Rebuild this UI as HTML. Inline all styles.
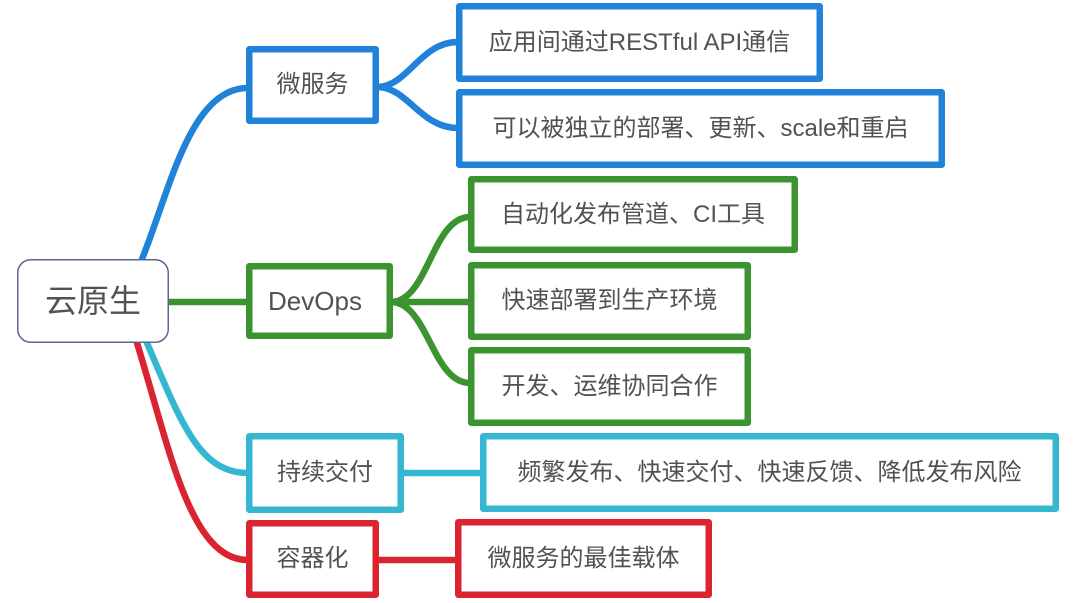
<!DOCTYPE html>
<html>
<head>
<meta charset="utf-8">
<style>
  html, body { margin:0; padding:0; background:#fff; }
  body { width:1080px; height:603px; position:relative; overflow:hidden; }
  svg { position:absolute; left:0; top:0; }
  .t { position:absolute; display:flex; align-items:center; justify-content:center;
       font-family:"Liberation Sans","Noto Sans CJK SC",sans-serif; font-size:24px;
       color:#525252; line-height:1; white-space:nowrap; }
</style>
</head>
<body>
<svg width="1080" height="603" viewBox="0 0 1080 603">
  <g fill="none" stroke-width="6.5" stroke-linecap="round">
    <!-- root connectors -->
    <path d="M142,259 C170,190 190,88 248,88" stroke="#2182da"/>
    <path d="M169,302 L248,302" stroke="#3b942f" stroke-linecap="butt"/>
    <path d="M147,343 C182,425 200,473 248,473" stroke="#35b7d1"/>
    <path d="M137,343 C170,450 190,560 248,560" stroke="#da2530"/>
    <!-- microservice fork -->
    <path d="M377,87 C408,87 420,42 458,42" stroke="#2182da"/>
    <path d="M377,87 C408,87 420,128 458,128" stroke="#2182da"/>
    <!-- devops fork -->
    <path d="M391,302 C428,302 432,217 470,217" stroke="#3b942f"/>
    <path d="M391,302 L470,302" stroke="#3b942f"/>
    <path d="M391,302 C428,302 432,383 470,383" stroke="#3b942f"/>
    <!-- cd / container -->
    <path d="M402,473 L482,473" stroke="#35b7d1"/>
    <path d="M377,560 L457,560" stroke="#da2530"/>
  </g>
  <g fill="#fff" stroke-width="6.5" stroke-linejoin="round">
    <rect x="249.25" y="49.25" width="126.5" height="71.5" stroke="#2182da"/>
    <rect x="459.25" y="6.25" width="360.5" height="72.5" stroke="#2182da"/>
    <rect x="459.25" y="92.25" width="482.5" height="72.5" stroke="#2182da"/>
    <rect x="249.25" y="266.25" width="140.5" height="69.5" stroke="#3b942f"/>
    <rect x="471.25" y="179.25" width="323.5" height="70.5" stroke="#3b942f"/>
    <rect x="471.25" y="265.25" width="276.5" height="71.5" stroke="#3b942f"/>
    <rect x="471.25" y="350.25" width="276.5" height="72.5" stroke="#3b942f"/>
    <rect x="249.25" y="436.25" width="151.5" height="73.5" stroke="#35b7d1"/>
    <rect x="483.25" y="436.25" width="572.5" height="72.5" stroke="#35b7d1"/>
    <rect x="249.25" y="523.25" width="126.5" height="71.5" stroke="#da2530"/>
    <rect x="458.25" y="522.25" width="250.5" height="72.5" stroke="#da2530"/>
  </g>
  <rect x="17.75" y="259.75" width="150.5" height="82.5" rx="13" ry="13" fill="#fff" stroke="#5b6592" stroke-width="1.5"/>
</svg>

<div class="t" style="left:17px;top:259px;width:152px;height:84px;font-size:32px;">云原生</div>

<div class="t" style="left:246px;top:46px;width:133px;height:78px;">微服务</div>
<div class="t" style="left:456px;top:3px;width:367px;height:79px;">应用间通过RESTful API通信</div>
<div class="t" style="left:456px;top:89px;width:489px;height:79px;">可以被独立的部署、更新、scale和重启</div>

<div class="t" style="left:246px;top:263px;width:138px;height:76px;font-size:26px;">DevOps</div>
<div class="t" style="left:468px;top:176px;width:330px;height:77px;">自动化发布管道、CI工具</div>
<div class="t" style="left:468px;top:262px;width:283px;height:78px;">快速部署到生产环境</div>
<div class="t" style="left:468px;top:347px;width:283px;height:79px;">开发、运维协同合作</div>

<div class="t" style="left:246px;top:433px;width:158px;height:80px;">持续交付</div>
<div class="t" style="left:480px;top:433px;width:579px;height:79px;">频繁发布、快速交付、快速反馈、降低发布风险</div>

<div class="t" style="left:246px;top:520px;width:133px;height:78px;">容器化</div>
<div class="t" style="left:455px;top:519px;width:257px;height:79px;">微服务的最佳载体</div>
</body>
</html>
